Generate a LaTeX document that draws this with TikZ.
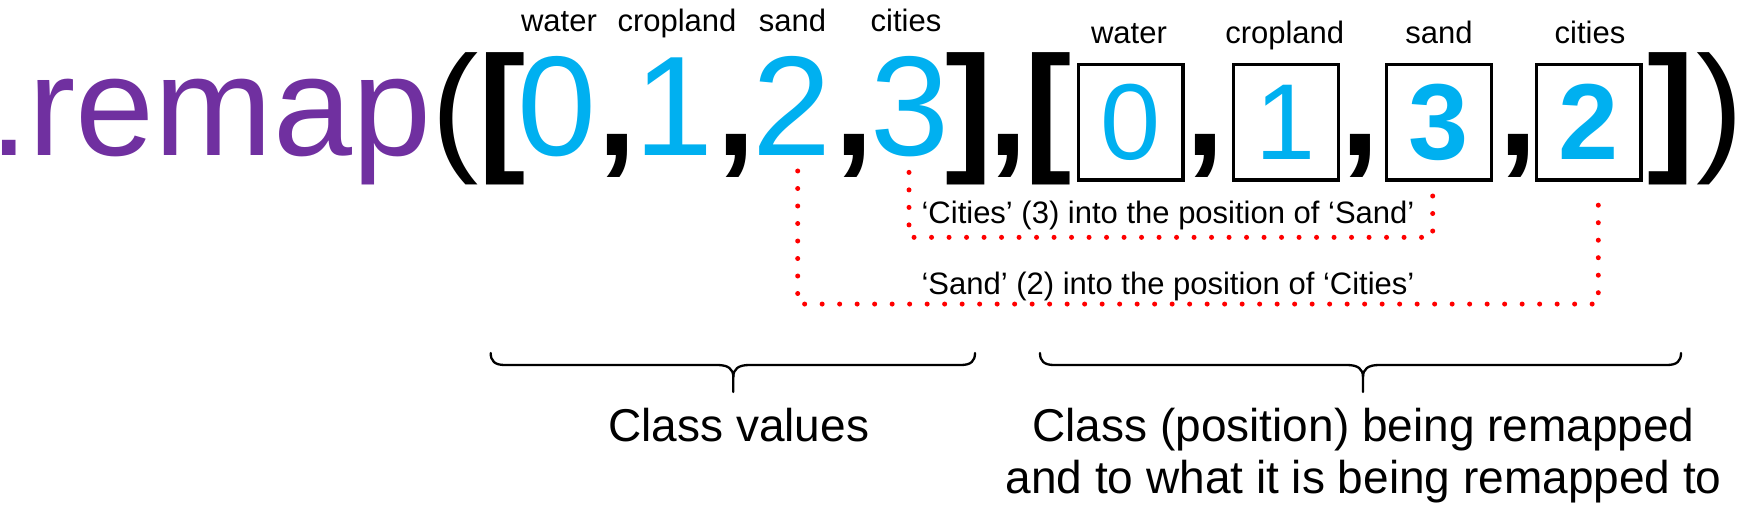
\documentclass[tikz,border=0pt]{standalone}
\usepackage{fontspec}
\setmainfont{Liberation Sans}
\usetikzlibrary{calc}
\definecolor{remapPurple}{HTML}{7030A0}
\definecolor{digitBlue}{HTML}{00B0F0}
\definecolor{dotRed}{HTML}{FF0000}
\newcommand{\drawcurlybrace}[3]{%
  \draw[bracepath] (#1,353) .. controls (#1,361) and (#1+4,365) .. (#1+14,365) -- (#3-16,365)
     .. controls (#3-5,365) and (#3,369) .. (#3,377) -- (#3,392);
  \draw[bracepath] (#3,377) .. controls (#3,369) and (#3+5,365) .. (#3+16,365) -- (#2-14,365)
     .. controls (#2-4,365) and (#2,361) .. (#2,353);
}
\begin{document}
\begin{tikzpicture}[x=1pt,y=-1pt,
  every node/.style={inner sep=0pt, outer sep=0pt},
  bigtxt/.style={font=\fontsize{142}{142}\selectfont, anchor=base},
  bigbold/.style={font=\fontsize{142}{142}\selectfont\bfseries, anchor=base},
  digit/.style={bigtxt, text=digitBlue},
  lbl/.style={font=\fontsize{31}{31}\selectfont, anchor=base},
  valbox/.style={draw, line width=3.3pt, minimum width=104.7pt, minimum height=115.7pt, text=digitBlue, font=\fontsize{108}{108}\selectfont},
  reddots/.style={draw=dotRed, line width=5pt, line cap=round, dash pattern=on 0pt off 17.5pt},
  note/.style={font=\fontsize{31}{31}\selectfont, anchor=base},
  caption/.style={font=\fontsize{46}{46}\selectfont, anchor=base},
  bracepath/.style={line width=2.3pt, line cap=round}
]
\useasboundingbox (0,0) rectangle (1754,508);

% main line
\node[bigtxt, anchor=base east, text=remapPurple] (remap) at (431,156) {\kern-12pt.remap};
\node[bigtxt] (lp) at (455,156) {(};
\node[bigbold] (lb1) at (502,156) {[};
\node[digit] (d0) at (557,156) {0};
\node[bigbold] (c1) at (617.5,156) {,};
\node[digit] (d1) at (674,156) {1};
\node[bigbold] (c2) at (736,156) {,};
\node[digit] (d2) at (791.5,156) {2};
\node[bigbold] (c3) at (854,156) {,};
\node[digit] (d3) at (910,156) {3};
\node[bigbold] (rb1) at (969,156) {]};
\node[bigbold] (c4) at (1008,156) {,};
\node[bigbold] (lb2) at (1048.5,156) {[};
\node[valbox] (b1) at (1130.5,122.2) {0};
\node[bigbold] (c5) at (1205,156) {,};
\node[valbox] (b2) at (1286,122.2) {1};
\node[bigbold] (c6) at (1360.5,156) {,};
\node[valbox, font=\fontsize{108}{108}\selectfont\bfseries] (b3) at (1439,122.2) {3};
\node[bigbold] (c7) at (1518,156) {,};
\node[valbox, font=\fontsize{108}{108}\selectfont\bfseries] (b4) at (1588.5,122.2) {2};
\node[bigbold] (rb2) at (1671.5,156) {]};
\node[bigtxt] (rp) at (1720,156) {)};

% labels above
\node[lbl] (lw) at (559,31.7) {water};
\node[lbl] (lc) at (677,31.7) {cropland};
\node[lbl] (ls) at (792.5,31.7) {sand};
\node[lbl] (lt) at (906,31.7) {cities};
\node[lbl] (rw) at (1129,43.3) {water};
\node[lbl] (rc) at (1284.7,43.3) {cropland};
\node[lbl] (rs) at (1439,43.3) {sand};
\node[lbl] (rt) at (1590,43.3) {cities};

% dotted connectors
\draw[reddots] ($(d3.south)+(-1,15)$) |- ($(b3.south)+(-6.3,57.3)$) -- ($(b3.south)+(-6.3,15.7)$);
\draw[reddots] ($(d2.south)+(6.2,15)$) |- ($(b4.south)+(9.8,124)$) -- ($(b4.south)+(9.8,16)$);
\node[note] (n1) at (1168,223.3) {‘Cities’ (3) into the position of ‘Sand’};
\node[note] (n2) at (1168,294) {‘Sand’ (2) into the position of ‘Cities’};

% braces
\drawcurlybrace{490.7}{975}{733.3}
\drawcurlybrace{1040}{1681}{1363}

% captions
\node[caption] (cv) at (738.8,441.7) {Class values};
\node[caption] (cr1) at (1363.6,441.7) {Class (position) being remapped};
\node[caption] (cr2) at (1363.6,493) {and to what it is being remapped to};
\end{tikzpicture}
\end{document}
